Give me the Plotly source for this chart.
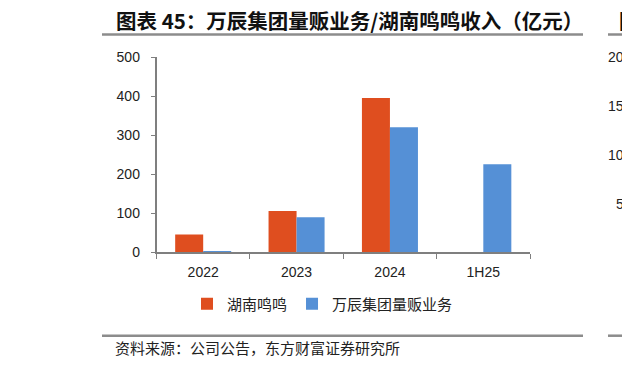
import plotly.graph_objects as go

categories = ["2022", "2023", "2024", "1H25"]
hunan_mingming = [45, 105, 395, None]
wanchen_bulk = [2, 89, 320, 225]
y_ticks = [0, 100, 200, 300, 400, 500]
right_ticks = ["200", "150", "100", "50"]

W, H = 622, 365
def px(x):
    return x / W
def py(y):
    return 1 - y / H

ORANGE = "#DF4E1F"
BLUE = "#5590D6"
AXIS = "#7F7F7F"
CJK = "Noto Sans CJK SC"
LAT = "Liberation Sans, Arial, sans-serif"

fig = go.Figure()
fig.add_trace(go.Bar(x=categories, y=hunan_mingming, name="湖南鸣鸣",
                     marker=dict(color=ORANGE, line=dict(width=0))))
fig.add_trace(go.Bar(x=categories, y=wanchen_bulk, name="万辰集团量贩业务",
                     marker=dict(color=BLUE, line=dict(width=0))))

fig.update_layout(
    width=W, height=H,
    margin=dict(l=0, r=0, t=0, b=0, autoexpand=False),
    paper_bgcolor="white", plot_bgcolor="white",
    barmode="group", bargap=0.4, bargroupgap=0,
    showlegend=True,
    legend=dict(orientation="h", x=px(187), y=py(304), yanchor="middle", xanchor="left",
                font=dict(family=CJK, size=15, color="#222"),
                itemwidth=30, tracegroupgap=0,
                bgcolor="rgba(0,0,0,0)"),
    xaxis=dict(domain=[px(156.5), px(530)], type="category", automargin=False,
               showline=True, linecolor=AXIS, linewidth=1.5,
               ticks="outside", tickson="boundaries", ticklen=5, tickcolor=AXIS,
               ticklabelstandoff=6,
               tickfont=dict(family=LAT, size=14, color="#222"),
               showgrid=False, zeroline=False),
    yaxis=dict(domain=[py(252), py(57)], range=[0, 500], tickvals=y_ticks, automargin=False,
               showline=True, linecolor=AXIS, linewidth=1.5,
               ticks="outside", ticklen=4, tickcolor=AXIS,
               ticklabelstandoff=8,
               tickfont=dict(family=LAT, size=14, color="#222"),
               showgrid=False, zeroline=False),
    font=dict(family=CJK),
)

# Title and source
fig.add_annotation(x=px(114), y=py(20), xref="paper", yref="paper",
                   xanchor="left", yanchor="middle", showarrow=False,
                   text="<b>图表 45：万辰集团量贩业务/湖南鸣鸣收入（亿元）</b>",
                   font=dict(family=CJK, size=20.5, color="#111"))
fig.add_annotation(x=px(113), y=py(347), xref="paper", yref="paper",
                   xanchor="left", yanchor="middle", showarrow=False,
                   text="资料来源：公司公告，东方财富证券研究所",
                   font=dict(family=CJK, size=15, color="#222"))

# Partial neighbouring chart at right edge
fig.add_annotation(x=px(617), y=py(20), xref="paper", yref="paper",
                   xanchor="left", yanchor="middle", showarrow=False,
                   text="<b>图表 46</b>", font=dict(family=CJK, size=20, color="#111"))
for lbl, yy in zip(right_ticks, [57, 106, 155, 204]):
    fig.add_annotation(x=px(634), y=py(yy), xref="paper", yref="paper",
                       xanchor="right", yanchor="middle", showarrow=False,
                       text=lbl, font=dict(family=LAT, size=14, color="#222"))

# Rule lines
for y0 in [34.5, 335.7]:
    fig.add_shape(type="line", xref="paper", yref="paper",
                  x0=px(102), x1=px(583), y0=py(y0), y1=py(y0),
                  line=dict(color="#8C8C8C", width=2.5))
    fig.add_shape(type="line", xref="paper", yref="paper",
                  x0=px(608), x1=px(640), y0=py(y0), y1=py(y0),
                  line=dict(color="#8C8C8C", width=2.5))

fig.write_html("out.html")
